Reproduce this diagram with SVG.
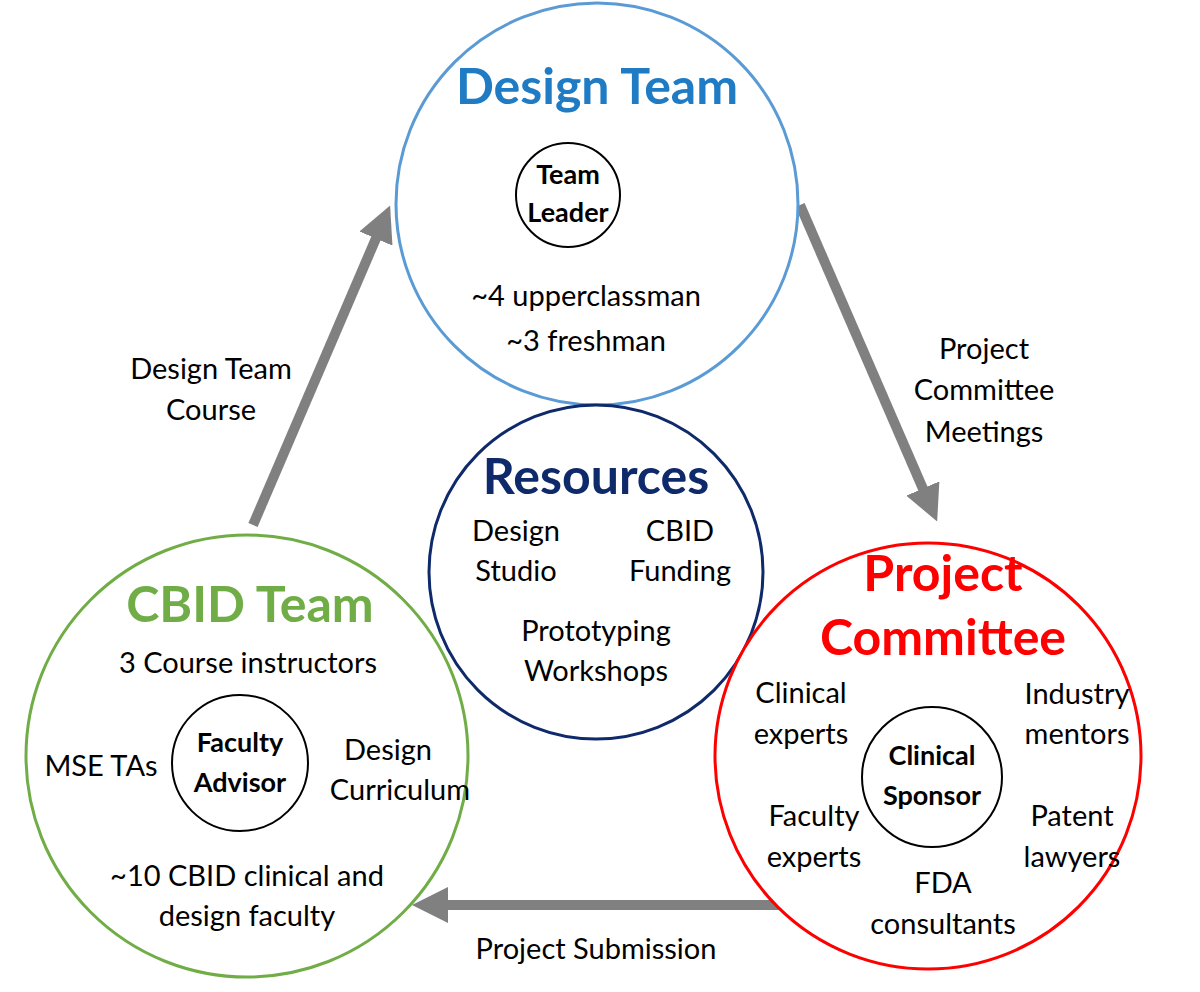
<svg xmlns="http://www.w3.org/2000/svg" width="1200" height="992" viewBox="0 0 1200 992">
<defs>
<marker id="ah" viewBox="0 0 10 10" refX="5" refY="5" markerWidth="3.6" markerHeight="3.6" orient="auto"><path d="M0,0 L10,5 L0,10 z" fill="#808080"/></marker>
<style>
text{font-family:Lato,"Open Sans",sans-serif;text-anchor:middle;fill:#000;font-size:29px}
.b{font-weight:bold;font-size:27px}
.h{font-weight:bold;font-size:50px}
.c{fill:#fff;stroke-width:3}
.s{fill:#fff;stroke:#000;stroke-width:2}
.a{stroke:#808080;stroke-width:10;fill:none}
</style>
</defs>
<rect width="1200" height="992" fill="#fff"/>
<g id="connectors">
<line class="a" x1="253" y1="525" x2="383" y2="222" marker-end="url(#ah)"/>
<line class="a" x1="800" y1="205" x2="930" y2="505" marker-end="url(#ah)"/>
<line class="a" x1="785" y1="905" x2="430" y2="905" marker-end="url(#ah)"/>
<text x="211" y="379">Design Team</text><text x="211" y="420">Course</text>
<text x="984" y="359">Project</text><text x="984" y="400">Committee</text><text x="984" y="442">Meetings</text>
<text x="596" y="959">Project Submission</text>
</g>
<g id="design-team">
<circle class="c" cx="597" cy="204" r="201" stroke="#5b9bd5"/>
<text class="h" x="597" y="104" style="fill:#1f7bc4">Design Team</text>
<circle class="s" cx="568" cy="195" r="52"/>
<text class="b" x="568" y="184">Team</text><text class="b" x="568" y="222">Leader</text>
<text x="586" y="306">~4 upperclassman</text><text x="586" y="351">~3 freshman</text>
</g>
<g id="resources">
<circle class="c" cx="596" cy="572" r="167" stroke="#0f2a6b"/>
<text class="h" x="596" y="494" style="fill:#0f2a6b">Resources</text>
<text x="516" y="541">Design</text><text x="516" y="581">Studio</text>
<text x="680" y="541">CBID</text><text x="680" y="581">Funding</text>
<text x="596" y="641">Prototyping</text><text x="596" y="681">Workshops</text>
</g>
<g id="cbid-team">
<circle class="c" cx="247" cy="756" r="221" stroke="#70ad47"/>
<text class="h" x="250" y="622" style="fill:#70ad47">CBID Team</text>
<text x="248" y="673">3 Course instructors</text>
<circle class="s" cx="240" cy="763" r="68"/>
<text class="b" x="240" y="752">Faculty</text><text class="b" x="240" y="792">Advisor</text>
<text x="101" y="776">MSE TAs</text>
<text x="388" y="760">Design</text><text x="400" y="800">Curriculum</text>
<text x="247" y="886">~10 CBID clinical and</text><text x="247" y="926">design faculty</text>
</g>
<g id="project-committee">
<circle class="c" cx="928" cy="756" r="213" stroke="#ff0000"/>
<text class="h" x="943" y="591" style="fill:#ff0000">Project</text>
<text class="h" x="943" y="655" style="fill:#ff0000">Committee</text>
<circle class="s" cx="932" cy="777" r="70"/>
<text class="b" x="932" y="765">Clinical</text><text class="b" x="932" y="805">Sponsor</text>
<text x="801" y="703">Clinical</text><text x="801" y="744">experts</text>
<text x="1077" y="704">Industry</text><text x="1077" y="744">mentors</text>
<text x="814" y="826">Faculty</text><text x="814" y="867">experts</text>
<text x="1072" y="826">Patent</text><text x="1072" y="867">lawyers</text>
<text x="943" y="893">FDA</text><text x="943" y="934">consultants</text>
</g>
</svg>
